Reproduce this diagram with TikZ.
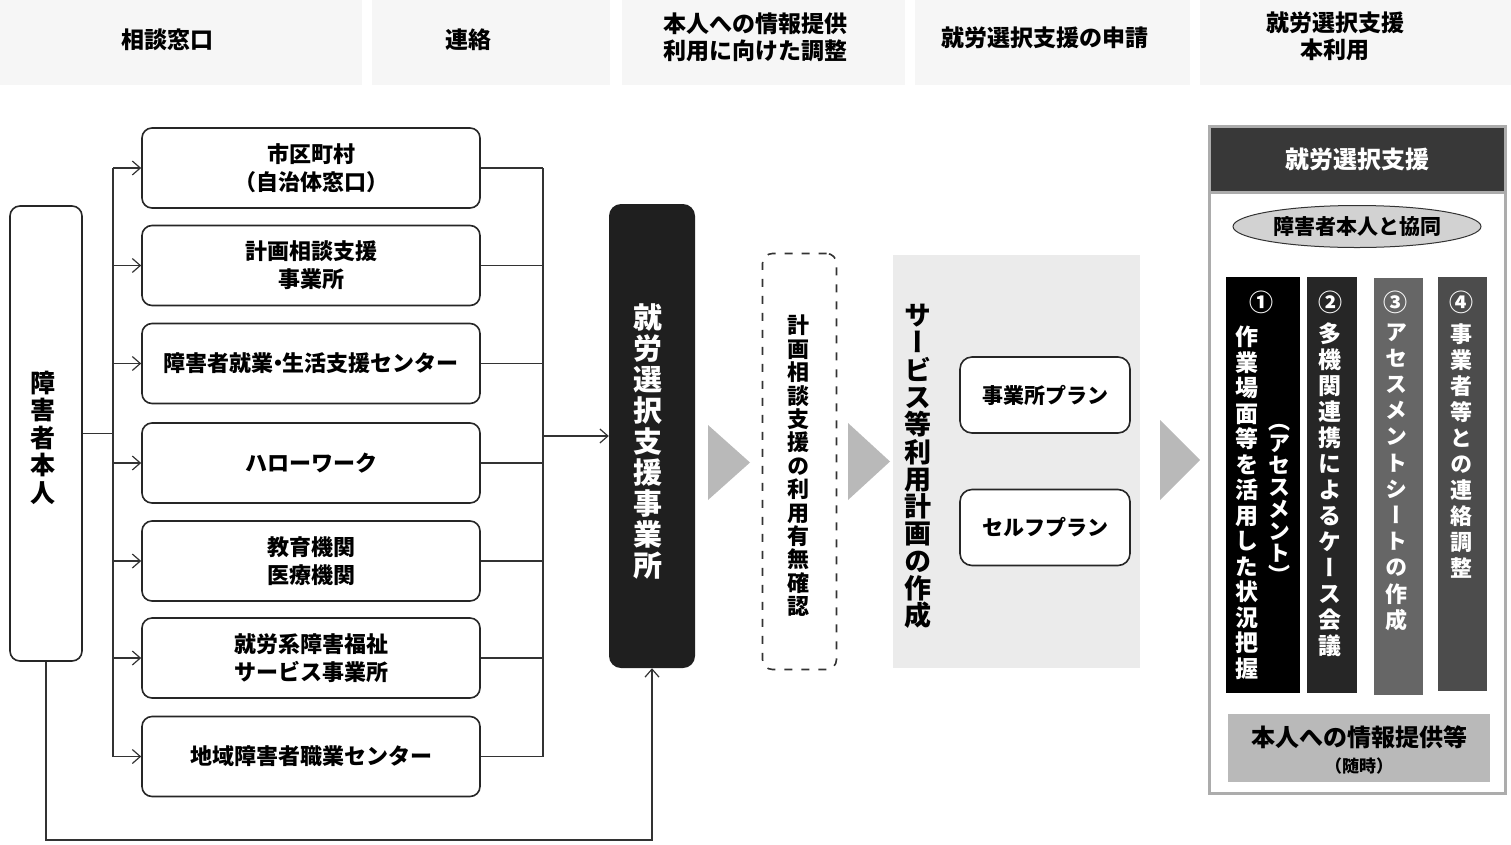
\documentclass[tikz,border=0pt]{standalone}
\usepackage{fontspec}
\setmainfont{Noto Sans CJK JP}
\newfontfamily\vjp[RawFeature=+vert]{Noto Sans CJK JP}
\usetikzlibrary{arrows.meta,shapes.geometric,calc}
\makeatletter
\def\vstk@#1{\ifx\relax#1\else\hbox to 1em{\hss#1\hss}\expandafter\vstk@\fi}
\newcommand\vt[3]{{\vjp\bfseries\fontsize{#1}{#2}\selectfont\vbox{\lineskiplimit=-\maxdimen\lineskip=0pt\relax\vstk@#3\relax}}}
\makeatother
\newcommand\hf[2]{\fontsize{#1}{#2}\selectfont\bfseries}
\tikzset{
  box/.style={draw=black!85, line width=1.6pt, rounded corners=10pt, fill=white,
    minimum width=338pt, minimum height=80pt, align=center, inner sep=0pt, font={\hf{22}{28}}},
  plan/.style={draw=black!85, line width=1.6pt, rounded corners=12pt, fill=white,
    minimum width=170pt, minimum height=76pt, inner sep=0pt, font={\hf{21}{26}}},
  hd/.style={align=center, inner sep=0pt, font={\hf{23}{27}}},
  conn/.style={draw=black!80, line width=1.4pt},
  arr/.style={conn, -{Straight Barb[length=8pt,width=14pt,line width=1.2pt]}},
  txt/.style={inner sep=0pt},
  col/.style={inner sep=0pt},
  num/.style={inner sep=0pt, text=white, font={\hf{24}{26}}},
}
\begin{document}
\begin{tikzpicture}[x=1pt,y=-1pt]
\useasboundingbox (0,0) rectangle (1511,844);
% faint header backgrounds
\fill[gray!7] (0,0) rectangle (362,85);
\fill[gray!7] (372,0) rectangle (610,85);
\fill[gray!7] (622,0) rectangle (905,85);
\fill[gray!7] (915,0) rectangle (1190,85);
\fill[gray!7] (1200,0) rectangle (1511,85);
% headers
\node[hd] (h1) at (167,40) {相談窓口};
\node[hd] (h2) at (468,40) {連絡};
\node[hd] (h3) at (755,37.5) {本人への情報提供\\利用に向けた調整};
\node[hd] (h4) at (1045,38) {就労選択支援の申請};
\node[hd] (h5) at (1335,36) {就労選択支援\\本利用};
% left person box
\node[draw=black!85, line width=1.6pt, rounded corners=10pt, minimum width=72pt, minimum height=455pt, inner sep=0pt] (self) at (46,433.5) {};
\node[txt] (selft) at (43,437.5) {\vt{25}{27.5}{障害者本人}};
% consultation boxes
\node[box] (b1) at (311,168) {市区町村\\（自治体窓口）};
\node[box] (b2) at (311,265.5) {計画相談支援\\事業所};
\node[box] (b3) at (311,363.5) {障害者就業\hspace{-0.3em}・\hspace{-0.3em}生活支援センター};
\node[box] (b4) at (311,463) {ハローワーク};
\node[box] (b5) at (311,561) {教育機関\\医療機関};
\node[box] (b6) at (311,658) {就労系障害福祉\\サービス事業所};
\node[box] (b7) at (311,756.5) {地域障害者職業センター};
% dark office box
\node[fill=black!88, rounded corners=12pt, minimum width=86pt, minimum height=464pt, inner sep=0pt] (jss) at (652,436) {};
\node[txt, text=white] (jsst) at (648,441.5) {\vt{29}{31}{就労選択支援事業所}};
% connectors
\coordinate (lt) at (113,168);
\coordinate (lb) at (113,756.5);
\draw[conn] (lt) -- (lb);
\draw[conn] (self.east) -- (self.east -| lt);
\foreach \b in {b1,b2,b3,b4,b5,b6,b7} {
  \draw[arr] (\b.west -| lt) -- (\b.west);
}
\coordinate (rt) at (543,168);
\coordinate (rb) at (543,756.5);
\draw[conn] (rt) -- (rb);
\foreach \b in {b1,b2,b3,b4,b5,b6,b7} {
  \draw[conn] (\b.east) -- (\b.east -| rt);
}
\draw[arr] (jss.west -| rt) -- (jss.west);
\coordinate (by) at (0,840);
\draw[arr] (self.south) |- (by -| jss.south) -- (jss.south);
% big gray arrows
\fill[gray!55] (708,425) -- (750,462.5) -- (708,500) -- cycle;
\fill[gray!55] (848,423) -- (890,461.5) -- (848,500) -- cycle;
\fill[gray!55] (1160,420) -- (1200,460) -- (1160,500) -- cycle;
% dashed check box
\node[draw=black!80, dash pattern=on 8pt off 9pt, line width=1.6pt, rounded corners=10pt, minimum width=74pt, minimum height=416pt, inner sep=0pt] (chk) at (799.5,461.5) {};
\node[txt] (chkt) at (798,466) {\vt{22}{23.4}{計画相談支援の利用有無確認}};
% service plan area
\node[fill=gray!16, minimum width=247pt, minimum height=413pt, inner sep=0pt] (svc) at (1016.5,461.5) {};
\node[txt] (svct) at (918,466.5) {\vt{27}{27.3}{サービス等利用計画の作成}};
\node[plan] (p1) at (1045,395) {事業所プラン};
\node[plan] (p2) at (1045,527.5) {セルフプラン};
% right panel
\node[draw=gray!65, line width=3pt, fill=white, minimum width=296pt, minimum height=667pt, inner sep=0pt] (panel) at (1357,459.5) {};
\node[draw=gray!65, line width=3pt, fill=black!78, minimum width=296pt, minimum height=66pt, anchor=north, inner sep=0pt, text=white, font={\hf{24}{28}}] (phead) at (panel.north) {就労選択支援};
\node[ellipse, draw=black!80, line width=1pt, fill=gray!35, minimum width=248pt, minimum height=42pt, inner sep=0pt, font={\hf{21}{24}}] (coop) at (1357,226.5) {障害者本人と協同};
\node[col, fill=black, minimum width=74pt, minimum height=416pt] (c1) at (1263,485) {};
\node[col, fill=black!85, minimum width=50pt, minimum height=416pt] (c2) at (1332,485) {};
\node[col, fill=black!60, minimum width=49pt, minimum height=417pt] (c3) at (1398.5,486.5) {};
\node[col, fill=black!70, minimum width=49pt, minimum height=414pt] (c4) at (1462.5,484) {};
\node[num] (n1) at (1261,302) {①};
\node[num] (n2) at (1330,302) {②};
\node[num] (n3) at (1395,302) {③};
\node[num] (n4) at (1461,302) {④};
\node[txt, text=white] (c1t) at (1247,503) {\vt{23}{25.5}{作業場面等を活用した状況把握}};
\node[txt, text=white] (c1p) at (1279,504) {\vt{22}{22}{（アセスメント）}};
\node[txt, text=white] (c2t) at (1330,490) {\vt{23}{26}{多機関連携によるケース会議}};
\node[txt, text=white] (c3t) at (1396,477) {\vt{22}{26.2}{アセスメントシートの作成}};
\node[txt, text=white] (c4t) at (1461,451) {\vt{22}{26}{事業者等との連絡調整}};
\node[fill=gray!55, minimum width=262pt, minimum height=68pt, inner sep=0pt] (info) at (1359,748) {};
\node[txt, font={\hf{24}{28}}] (info1) at (1359,737) {本人への情報提供等};
\node[txt, font={\hf{17}{20}}] (info2) at (1359,766) {（随時）};
\end{tikzpicture}
\end{document}
